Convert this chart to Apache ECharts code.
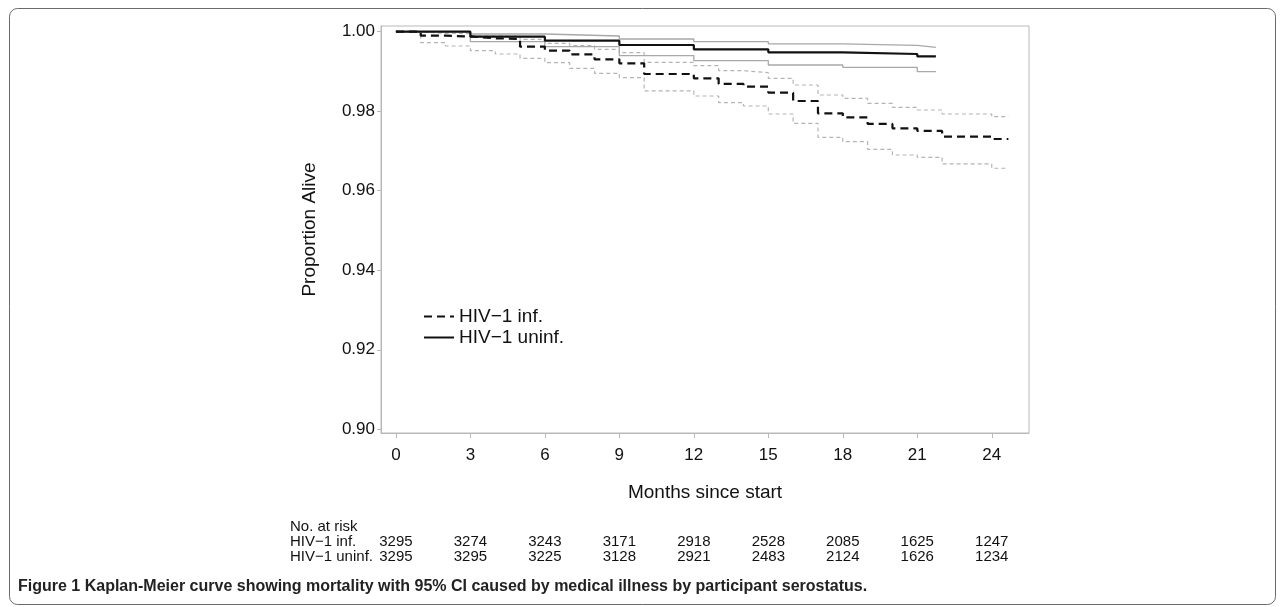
<!DOCTYPE html>
<html>
<head>
<meta charset="utf-8">
<script src="https://cdn.jsdelivr.net/npm/echarts@6/dist/echarts.min.js"></script>
<style>
* {
  margin: 0;
  padding: 0;
}
#chart-container {
  width: 1281px;
  height: 607px;
  background: #fff;
}
</style>
</head>
<body>
<div id="chart-container"></div>
<script>
// tick labels
const xTicks = [0, 3, 6, 9, 12, 15, 18, 21, 24]
const yTicks = [0.90, 0.92, 0.94, 0.96, 0.98, 1.00]

// HIV-1 infected: step starts (months) and value over each interval
const infMonths = [0, 1, 2, 3, 4, 5, 6, 7, 8, 9, 10, 11, 12, 13, 14, 15, 16, 17, 18, 19, 20, 21, 22, 23, 24, 24.67]
const infSurv = [1.0, 0.99900, 0.99880, 0.99833, 0.99820, 0.99623, 0.99523, 0.99431, 0.99305, 0.99204, 0.98936, 0.98936,
  0.98827, 0.98685, 0.98618, 0.98467, 0.98257, 0.97947, 0.97846, 0.97679, 0.97570, 0.97503, 0.97360, 0.97360, 0.97301]
const infUpper = [1.0, 0.99960, 0.99950, 0.99892, 0.99880, 0.99808, 0.99708, 0.99648, 0.99557, 0.99472, 0.99230, 0.99230,
  0.99146, 0.99020, 0.98970, 0.98827, 0.98659, 0.98408, 0.98324, 0.98199, 0.98098, 0.98031, 0.97930, 0.97930, 0.97862]
const infLower = [1.0, 0.99724, 0.99640, 0.99523, 0.99439, 0.99330, 0.99221, 0.99079, 0.98953, 0.98844, 0.98509, 0.98509,
  0.98383, 0.98215, 0.98131, 0.97930, 0.97696, 0.97344, 0.97233, 0.97042, 0.96899, 0.96841, 0.96673, 0.96673, 0.96565]

// HIV-1 uninfected
const uninfMonths = [0, 3, 6, 9, 12, 15, 18, 21, 21.75]
const uninfSurv = [1.0, 0.99874, 0.99774, 0.99665, 0.99557, 0.99481, 0.99439, 0.99380]
const uninfUpper = [1.0, 0.99942, 0.99892, 0.99816, 0.99749, 0.99691, 0.99658, 0.99608]
const uninfLower = [1.0, 0.99748, 0.99623, 0.99400, 0.99270, 0.99162, 0.99104, 0.98994]

// numbers at risk
const riskInf = [3295, 3274, 3243, 3171, 2918, 2528, 2085, 1625, 1247]
const riskUninf = [3295, 3295, 3225, 3128, 2921, 2483, 2124, 1626, 1234]

const FONT = '"Liberation Sans", Arial, Helvetica, sans-serif'

const toSteps = (months, vals) => {
  const pts = vals.map((v, i) => [months[i], v])
  pts.push([months[months.length - 1], vals[vals.length - 1]])
  return pts
}

const chartDom = document.getElementById('chart-container')
const myChart = echarts.init(chartDom, null, { renderer: 'canvas' })

const ciLine = (name, months, vals, type) => ({
  name: name,
  type: 'line',
  step: 'end',
  symbol: 'none',
  silent: true,
  z: 1,
  data: toSteps(months, vals),
  lineStyle: type === 'dashed'
    ? { color: '#b4b4b4', width: 1.2, type: [4, 3] }
    : { color: '#a8a8a8', width: 1.3, type: 'solid' }
})

const option = {
  animation: false,
  textStyle: { fontFamily: FONT },
  grid: {
    left: 381,
    right: 252,
    top: 26,
    bottom: 174,
    show: true,
    borderColor: '#b8b8b8',
    borderWidth: 1
  },
  legend: {
    left: 418,
    top: 302,
    orient: 'vertical',
    itemWidth: 30,
    itemHeight: 14,
    itemGap: 2,
    itemStyle: { opacity: 0 },
    data: ['HIV\u22121 inf.', 'HIV\u22121 uninf.'],
    textStyle: { fontSize: 19, color: '#111', fontFamily: FONT }
  },
  xAxis: {
    type: 'value',
    min: -0.6,
    max: 25.5,
    name: 'Months since start',
    nameLocation: 'middle',
    nameGap: 50,
    nameTextStyle: { fontSize: 19, color: '#111', fontFamily: FONT },
    axisLine: { onZero: false, lineStyle: { color: '#b8b8b8' } },
    axisTick: { customValues: xTicks, length: 5, lineStyle: { color: '#b8b8b8' } },
    axisLabel: { customValues: xTicks, fontSize: 17, color: '#111', margin: 14, fontFamily: FONT },
    splitLine: { show: false }
  },
  yAxis: {
    type: 'value',
    min: 0.89907,
    max: 1.00143,
    name: 'Proportion Alive',
    nameLocation: 'middle',
    nameGap: 62,
    nameTextStyle: { fontSize: 19, color: '#111', fontFamily: FONT },
    axisLine: { show: true, onZero: false, lineStyle: { color: '#b8b8b8' } },
    axisTick: { show: true, customValues: yTicks, length: 4, lineStyle: { color: '#b8b8b8' } },
    axisLabel: {
      customValues: yTicks,
      fontSize: 17,
      color: '#111',
      margin: 6,
      fontFamily: FONT,
      formatter: (v) => v.toFixed(2)
    },
    splitLine: { show: false }
  },
  series: [
    ciLine('inf upper', infMonths, infUpper, 'dashed'),
    ciLine('inf lower', infMonths, infLower, 'dashed'),
    ciLine('uninf upper', uninfMonths, uninfUpper, 'solid'),
    ciLine('uninf lower', uninfMonths, uninfLower, 'solid'),
    {
      name: 'HIV\u22121 inf.',
      type: 'line',
      step: 'end',
      symbol: 'none',
      z: 3,
      data: toSteps(infMonths, infSurv),
      lineStyle: { color: '#111', width: 2.2, type: [8, 5] },
      itemStyle: { color: '#111' }
    },
    {
      name: 'HIV\u22121 uninf.',
      type: 'line',
      step: 'end',
      symbol: 'none',
      z: 4,
      data: toSteps(uninfMonths, uninfSurv),
      lineStyle: { color: '#111', width: 2.2, type: 'solid' },
      itemStyle: { color: '#111' }
    }
  ]
}

myChart.setOption(option)

// number-at-risk table and caption, placed under the x axis ticks
const tableFont = { fontSize: 15, fill: '#111', fontFamily: FONT }
const graphics = [
  {
    type: 'rect',
    silent: true,
    shape: { x: 9.5, y: 8.5, width: 1266, height: 596, r: 8 },
    style: { fill: 'none', stroke: '#6a6a6a', lineWidth: 1 }
  },
  { type: 'text', x: 290, y: 527, style: Object.assign({ text: 'No. at risk', verticalAlign: 'middle' }, tableFont) },
  { type: 'text', x: 290, y: 542, style: Object.assign({ text: 'HIV\u22121 inf.', verticalAlign: 'middle' }, tableFont) },
  { type: 'text', x: 290, y: 557, style: Object.assign({ text: 'HIV\u22121 uninf.', verticalAlign: 'middle' }, tableFont) },
  {
    type: 'text',
    x: 18,
    y: 587,
    style: {
      text: 'Figure 1 Kaplan-Meier curve showing mortality with 95% CI caused by medical illness by participant serostatus.',
      fontSize: 16,
      fontWeight: 'bold',
      fill: '#222',
      fontFamily: FONT,
      verticalAlign: 'middle'
    }
  }
]
xTicks.forEach((m, i) => {
  const px = myChart.convertToPixel({ xAxisIndex: 0 }, m)
  graphics.push({ type: 'text', x: px, y: 542, style: Object.assign({ text: String(riskInf[i]), align: 'center', verticalAlign: 'middle' }, tableFont) })
  graphics.push({ type: 'text', x: px, y: 557, style: Object.assign({ text: String(riskUninf[i]), align: 'center', verticalAlign: 'middle' }, tableFont) })
})
myChart.setOption({ graphic: graphics })
</script>
</body>
</html>
